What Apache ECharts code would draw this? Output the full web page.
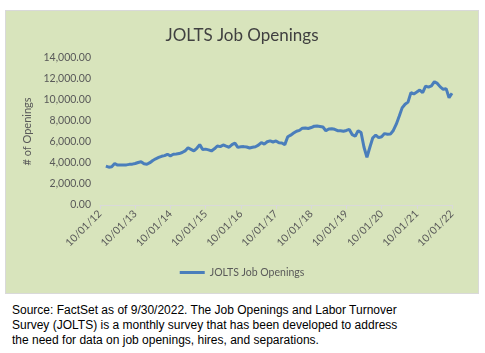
<!DOCTYPE html>
<html>
<head>
<meta charset="utf-8">
<script src="https://cdn.jsdelivr.net/npm/echarts@6/dist/echarts.min.js"></script>
<style>
  html, body { margin: 0; padding: 0; background: #fff; }
  #chart {
    position: absolute; left: 5px; top: 10px;
    width: 472px; height: 282px;
    border: 1px solid #d9d9d9;
    background: #d8e4bc;
  }
  #source {
    position: absolute; left: 12px; top: 303px; width: 470px;
    font-family: "Liberation Sans", Arial, sans-serif;
    font-size: 12px; line-height: 15px; color: #000;
  }
</style>
</head>
<body>
<div id="chart"></div>
<div id="source">Source: FactSet as of 9/30/2022. The Job Openings and Labor Turnover<br>Survey (JOLTS) is a monthly survey that has been developed to address<br>the need for data on job openings, hires, and separations.</div>
<script>
// axis runs monthly from Oct 2012 to Oct 2022, labels every October
const startYear = 2012
const monthCount = 121
const firstDataIndex = 2
const yTicks = [0, 2000, 4000, 6000, 8000, 10000, 12000, 14000]

// job openings (thousands), monthly
const openings = [
  3700, 3600, 3650, 3950, 3800, 3810, 3800, 3820, 3870, 3890,
  3950, 4050, 4120, 3930, 3880, 4030, 4240, 4400, 4530, 4640,
  4700, 4830, 4680, 4830, 4860, 4900, 5000, 5150, 5450, 5300,
  5150, 5400, 5750, 5280, 5320, 5250, 5150, 5350, 5620, 5560,
  5720, 5600, 5500, 5750, 5900, 5490, 5540, 5560, 5520, 5430,
  5500, 5550, 5700, 5950, 5800, 6020, 6110, 6000, 6100, 5920,
  5900, 5750, 6500, 6650, 6850, 7030, 7110, 7320, 7340, 7290,
  7380, 7500, 7520, 7480, 7430, 7070, 7240, 7270, 7210, 7080,
  7080, 7030, 7100, 7200, 6700, 6550, 7080, 6900, 5500, 4550,
  5500, 6400, 6650, 6420, 6500, 6800, 6740, 6750, 7100, 7700,
  8450, 9250, 9600, 9800, 10700, 10580, 10760, 10950, 10700, 11320,
  11230, 11340, 11740, 11580, 11250, 11020, 11080, 10220, 10640
]

const months = []
for (let i = 0; i < monthCount; i++) {
  const m = (9 + i) % 12 + 1
  const y = startYear + Math.floor((9 + i) / 12)
  months.push(String(m).padStart(2, '0') + '/01/' + String(y % 100).padStart(2, '0'))
}
const seriesData = months.map((m, i) => i < firstDataIndex ? '-' : openings[i - firstDataIndex])

const font = 'Lato, "Open Sans", sans-serif'
const yearly = (index) => index % 12 === 0

const chart = echarts.init(document.getElementById('chart'))
chart.setOption({
  animation: false,
  title: {
    text: 'JOLTS Job Openings',
    left: 'center',
    top: 11,
    textStyle: { fontFamily: font, fontSize: 17, fontWeight: 'normal', color: '#404040' },
  },
  legend: {
    bottom: 10,
    left: 'center',
    icon: 'rect',
    itemWidth: 25,
    itemHeight: 3,
    itemGap: 4,
    textStyle: { fontFamily: font, fontSize: 10.5, color: '#595959' },
  },
  grid: { left: 94, right: 26, top: 47, bottom: 88 },
  xAxis: {
    type: 'category',
    data: months,
    boundaryGap: false,
    axisLine: { lineStyle: { color: '#d9d9d9', width: 1 } },
    axisTick: { interval: yearly, length: 4, lineStyle: { color: '#d9d9d9' } },
    axisLabel: {
      interval: yearly,
      rotate: 45,
      margin: 7,
      fontFamily: font,
      fontSize: 10.5,
      color: '#595959',
    },
    splitLine: { show: false },
  },
  yAxis: {
    type: 'value',
    min: yTicks[0],
    max: yTicks[yTicks.length - 1],
    interval: yTicks[1] - yTicks[0],
    name: '# of Openings',
    nameLocation: 'middle',
    nameGap: 62,
    nameTextStyle: { fontFamily: font, fontSize: 11, color: '#595959' },
    axisLine: { show: false },
    axisTick: { show: false },
    splitLine: { show: false },
    axisLabel: {
      margin: 9,
      fontFamily: font,
      fontSize: 10.5,
      color: '#595959',
      formatter: v => v.toLocaleString('en-US', { minimumFractionDigits: 2, maximumFractionDigits: 2 }),
    },
  },
  series: [
    {
      name: 'JOLTS Job Openings',
      type: 'line',
      data: seriesData,
      symbol: 'none',
      lineStyle: { color: '#4a7ebb', width: 3 },
      itemStyle: { color: '#4a7ebb' },
    },
  ],
})
</script>
</body>
</html>
